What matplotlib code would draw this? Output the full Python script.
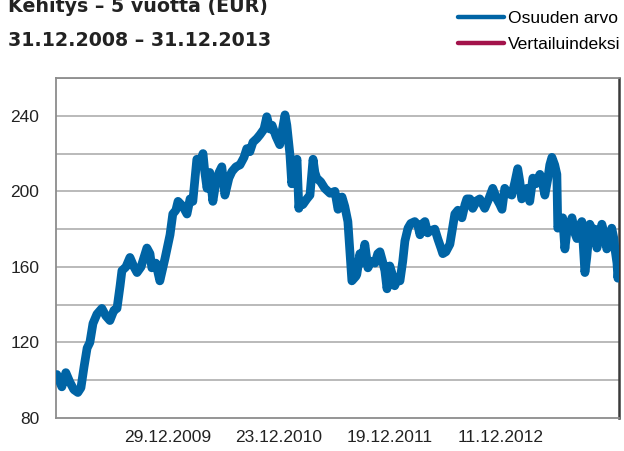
import matplotlib
matplotlib.use("Agg")
import matplotlib.pyplot as plt
from matplotlib.lines import Line2D
import pandas as pd

# Fund value (Osuuden arvo), read at irregular dates
dates = [
    "2008-12-31", "2009-01-03", "2009-01-19", "2009-02-01", "2009-02-14", "2009-02-27",
    "2009-03-12", "2009-03-22", "2009-04-01", "2009-04-11", "2009-04-20", "2009-04-30",
    "2009-05-13", "2009-05-29", "2009-06-11", "2009-06-24", "2009-07-07", "2009-07-17",
    "2009-07-27", "2009-08-02", "2009-08-15", "2009-08-28", "2009-09-10", "2009-09-20",
    "2009-10-03", "2009-10-22", "2009-11-01", "2009-11-07", "2009-11-20", "2009-12-03",
    "2009-12-20", "2010-01-05", "2010-01-14", "2010-01-24", "2010-01-31", "2010-02-16",
    "2010-03-01", "2010-03-11", "2010-03-20", "2010-04-02", "2010-04-12", "2010-04-22",
    "2010-04-28", "2010-05-05", "2010-05-14", "2010-05-24", "2010-06-03", "2010-06-13",
    "2010-06-22", "2010-07-02", "2010-07-15", "2010-07-25", "2010-08-07", "2010-08-20",
    "2010-09-02", "2010-09-11", "2010-09-21", "2010-10-01", "2010-10-14", "2010-10-24",
    "2010-11-06", "2010-11-15", "2010-11-25", "2010-12-02", "2010-12-15", "2010-12-27",
    "2011-01-06", "2011-01-13", "2011-01-19", "2011-01-29", "2011-02-04", "2011-02-11",
    "2011-02-21", "2011-02-27", "2011-03-02", "2011-03-12", "2011-03-25", "2011-04-04",
    "2011-04-14", "2011-04-20", "2011-04-26", "2011-05-09", "2011-05-22", "2011-06-08",
    "2011-06-24", "2011-07-04", "2011-07-17", "2011-07-26", "2011-08-05", "2011-08-12",
    "2011-08-18", "2011-08-31", "2011-09-03", "2011-09-13", "2011-09-19", "2011-09-29",
    "2011-10-09", "2011-10-19", "2011-11-01", "2011-11-10", "2011-11-17", "2011-11-27",
    "2011-12-03", "2011-12-10", "2011-12-19", "2011-12-29", "2012-01-04", "2012-01-14",
    "2012-01-21", "2012-01-30", "2012-02-06", "2012-02-16", "2012-02-25", "2012-03-09",
    "2012-03-19", "2012-03-26", "2012-04-04", "2012-04-11", "2012-04-20", "2012-04-27",
    "2012-05-13", "2012-05-23", "2012-06-02", "2012-06-08", "2012-06-18", "2012-07-01",
    "2012-07-11", "2012-07-17", "2012-07-27", "2012-08-09", "2012-08-19", "2012-08-25",
    "2012-09-04", "2012-09-13", "2012-09-26", "2012-10-06", "2012-10-16", "2012-10-22",
    "2012-11-04", "2012-11-17", "2012-11-30", "2012-12-10", "2012-12-17", "2012-12-26",
    "2013-01-05", "2013-01-18", "2013-01-28", "2013-02-06", "2013-02-13", "2013-02-19",
    "2013-03-01", "2013-03-08", "2013-03-17", "2013-03-27", "2013-04-06", "2013-04-19",
    "2013-04-28", "2013-05-05", "2013-05-15", "2013-05-21", "2013-05-28", "2013-06-06",
    "2013-06-13", "2013-06-16", "2013-06-26", "2013-07-02", "2013-07-09", "2013-07-15",
    "2013-07-25", "2013-08-01", "2013-08-10", "2013-08-17", "2013-08-26", "2013-09-02",
    "2013-09-12", "2013-09-18", "2013-09-28", "2013-10-08", "2013-10-14", "2013-10-21",
    "2013-10-30", "2013-11-06", "2013-11-16", "2013-11-22", "2013-12-02", "2013-12-08",
    "2013-12-15", "2013-12-18", "2013-12-25", "2013-12-28", "2013-12-31",
]
osuuden_arvo = [
    101.6, 103, 96.5, 104, 99, 95,
    93.5, 96, 107, 117, 120, 130,
    135, 138, 134, 131.6, 137, 138,
    150, 158, 160, 165, 160, 157,
    160, 170, 167, 159.5, 162, 152.6,
    164.7, 177, 188, 190, 194.7, 192,
    188, 196, 194.7, 217, 215, 220,
    210, 201.6, 210, 194.7, 205, 210,
    213, 198, 207, 210.5, 213, 214,
    218, 222.6, 221, 226, 228, 230,
    233, 239.5, 233, 235, 229, 224.7,
    234, 240.5, 235, 219.5, 204, 210,
    217, 191, 195, 193, 196, 198,
    217, 210, 207, 205, 201.6, 199,
    200, 190.5, 197, 192, 184, 167,
    152.6, 155, 156, 167, 162, 172,
    159.5, 163, 162, 167, 168, 162,
    158, 148.4, 160.5, 155, 150, 154,
    152.6, 163, 173.7, 180.5, 183, 184,
    182, 177, 183, 184, 178, 179,
    180, 174.7, 170, 167, 168, 172,
    182, 188, 190, 186, 193, 196,
    196, 191, 195, 196, 193, 191,
    196, 201.6, 196, 193, 190.5, 201.6,
    199, 198, 205, 212, 205, 196,
    200, 201.6, 194.7, 207, 204, 209,
    204, 198, 207, 214, 218, 214,
    209, 180.5, 185, 186, 169.5, 178,
    182, 186, 178, 175, 182, 184,
    157, 165, 182.6, 178, 180, 170,
    178, 182.6, 176, 169.5, 175, 180.5,
    175, 170, 162, 154, 159.5,
]

tick_dates = ["2009-12-29", "2010-12-23", "2011-12-19", "2012-12-11"]
tick_labels = ["29.12.2009", "23.12.2010", "19.12.2011", "11.12.2012"]
y_ticks = [80, 120, 160, 200, 240]
grid_levels = [100, 120, 140, 160, 180, 200, 220, 240, 260]
series_names = ["Osuuden arvo", "Vertailuindeksi"]

blue = "#0064a5"
crimson = "#a3134b"

x = pd.to_datetime(dates)

fig = plt.figure(figsize=(6.24, 4.51), dpi=100)
ax = fig.add_axes([0.0897, 0.0732, 0.902, 0.7538])

for g in grid_levels:
    ax.axhline(g, color="#b4b4b4", lw=1.3, zorder=1)

ax.plot(x, osuuden_arvo, color=blue, lw=6.3, solid_capstyle="round",
        solid_joinstyle="round", zorder=3)

ax.set_xlim(pd.Timestamp("2008-12-31"), pd.Timestamp("2013-12-31"))
ax.set_ylim(80, 260)
ax.set_yticks(y_ticks)
ax.set_xticks(pd.to_datetime(tick_dates))
ax.set_xticklabels(tick_labels)
ax.tick_params(axis="both", length=0, labelsize=12.5, colors="#222222")
ax.tick_params(axis="y", pad=12)
ax.tick_params(axis="x", pad=9)
for lab in ax.get_xticklabels() + ax.get_yticklabels():
    lab.set_fontfamily("Liberation Sans")

for side in ["left", "top", "bottom"]:
    ax.spines[side].set_color("#8c8c8c")
    ax.spines[side].set_linewidth(1.3)
ax.spines["right"].set_color("#3a3a3a")
ax.spines["right"].set_linewidth(1.8)

# two-line heading, first line runs off the top edge
fig.text(0.013, 0.9734, "Kehitys \u2013 5 vuotta (EUR)", fontsize=13.7,
         fontweight="bold", family="DejaVu Sans", color="#222222",
         va="baseline", ha="left")
fig.text(0.013, 0.898, "31.12.2008 \u2013 31.12.2013", fontsize=13.7,
         fontweight="bold", family="DejaVu Sans", color="#222222",
         va="baseline", ha="left")

handles = [Line2D([], [], color=blue, lw=3.2, solid_capstyle="round"),
           Line2D([], [], color=crimson, lw=3.2, solid_capstyle="round")]
fig.legend(handles, series_names, loc="upper right", bbox_to_anchor=(1.02, 1.01),
           frameon=False, handlelength=2.6, handletextpad=0.25, labelspacing=0.6,
           prop={"family": "Liberation Sans", "size": 12.6})

fig.savefig("out.png", dpi=100)
